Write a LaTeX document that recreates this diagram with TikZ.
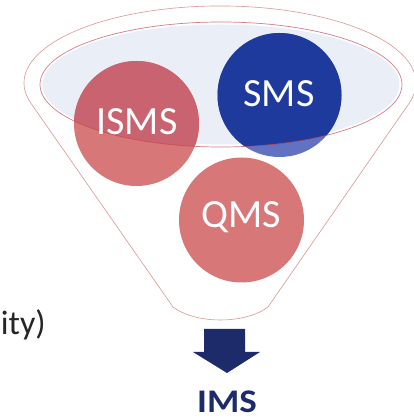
\documentclass[tikz,border=0pt]{standalone}
\usepackage{fontspec}
\setmainfont{Carlito}
\definecolor{rimred}{RGB}{218,150,150}
\definecolor{lineRed}{RGB}{196,70,80}
\definecolor{bowlfill}{RGB}{233,238,247}
\definecolor{redlight}{RGB}{216,119,119}
\definecolor{reddark}{RGB}{200,99,111}
\definecolor{bluedark}{RGB}{31,58,157}
\definecolor{bluelight}{RGB}{98,114,194}
\definecolor{navy}{RGB}{29,43,107}
\definecolor{txtgray}{RGB}{38,38,38}
\begin{document}
\begin{tikzpicture}[x=1pt,y=1pt,
  circtext/.style={text=white,font=\fontsize{40}{44}\selectfont,anchor=base,inner sep=0pt},
  funnelline/.style={draw=rimred,line width=0.6pt}]
\useasboundingbox (0,0) rectangle (414,420);
% funnel body
\path[funnelline,fill=white] (30.7,317.1) arc[start angle=195,end angle=-15,x radius=196,y radius=77]
  -- (268,113) .. controls (245,95.7) and (196,95.7) .. (173,113) -- cycle;
% bowl
\fill[bowlfill] (221,335.5) ellipse[x radius=178.5,y radius=60];
% circles (outside parts, lighter)
\fill[redlight] (136.5,296.5) circle[radius=62.5];
\fill[bluelight] (279.5,325) circle[radius=62];
\fill[redlight] (241.5,200) circle[radius=62.5];
% parts inside the bowl, darker
\begin{scope}
  \clip (221,335.5) ellipse[x radius=181,y radius=62.5];
  \fill[reddark] (136.5,296.5) circle[radius=62.5];
  \fill[bluedark] (279.5,325) circle[radius=62];
\end{scope}
% bowl rim line
\draw[lineRed,line width=0.7pt,opacity=0.7] (221,335.5) ellipse[x radius=181,y radius=62.5];
% labels
\node[circtext] (isms) at (137,285) {ISMS};
\node[circtext] (sms) at (279,313) {SMS};
\node[circtext] (qms) at (241,192) {QMS};
% arrow
\fill[navy] (204,91) -- (245,91) -- (245,68) -- (260,68) -- (227,47) -- (193,68) -- (204,68) -- cycle;
\node[text=navy,font=\bfseries\fontsize{33}{36}\selectfont,anchor=base,inner sep=0pt,xscale=1.12] (ims) at (227,7) {IMS};
\node[text=txtgray,font=\fontsize{34}{38}\selectfont,anchor=base east,inner sep=0pt] (ity) at (46,85) {ity)};
\end{tikzpicture}
\end{document}
